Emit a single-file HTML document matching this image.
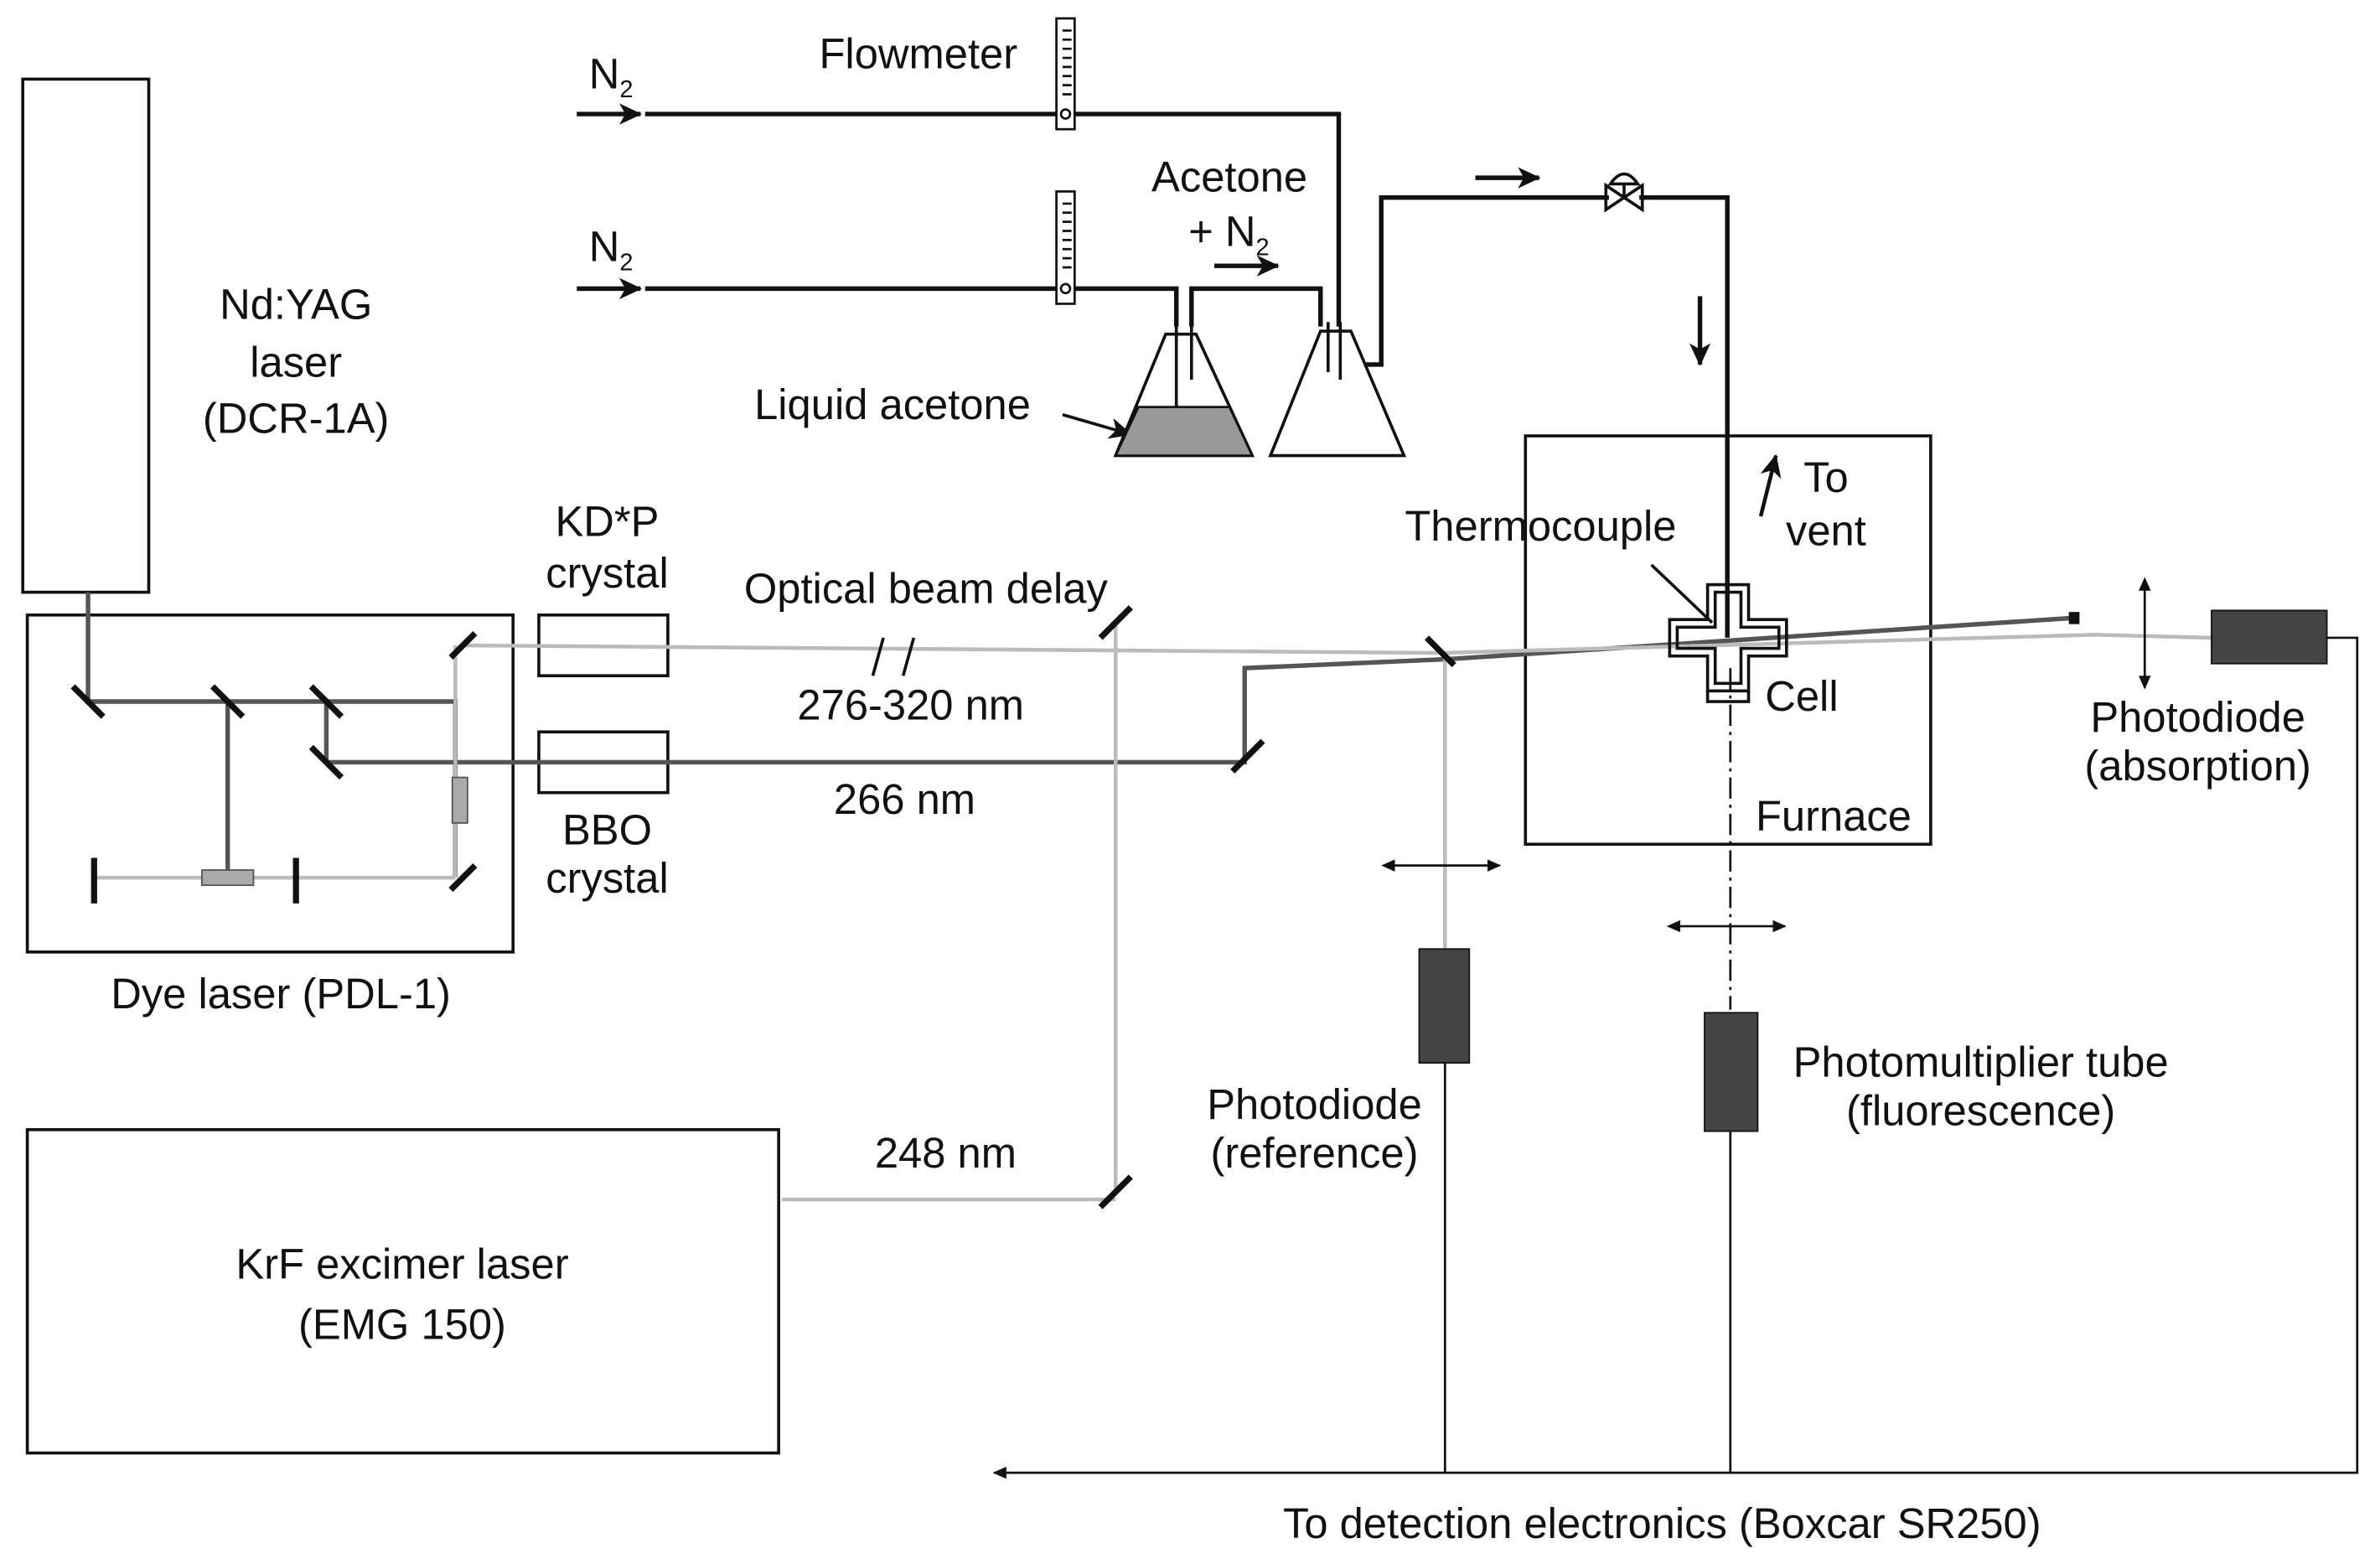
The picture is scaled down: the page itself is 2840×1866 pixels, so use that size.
<!DOCTYPE html>
<html><head><meta charset="utf-8"><style>
html,body{margin:0;padding:0;background:#fff;}
svg{display:block;}
text{font-family:"Liberation Sans",sans-serif;fill:#111;font-size:28px;font-weight:500;}
</style></head><body>
<svg width="2840" height="1866" viewBox="0 0 1568 1030" xmlns="http://www.w3.org/2000/svg">
<defs>
<marker id="ah" markerWidth="10" markerHeight="10" refX="8" refY="5" orient="auto" markerUnits="userSpaceOnUse"><path d="M0,1 L9,5 L0,9 Z" fill="#111"/></marker>
<marker id="ahs" markerWidth="10" markerHeight="10" refX="2" refY="5" orient="auto-start-reverse" markerUnits="userSpaceOnUse"><path d="M0,1 L9,5 L0,9 Z" fill="#111"/></marker>
<marker id="big" markerWidth="16" markerHeight="14" refX="14" refY="7" orient="auto" markerUnits="userSpaceOnUse"><path d="M0,0 L15,7 L0,14 L4,7 Z" fill="#111"/></marker>
</defs>
<g fill="none" stroke="#111" stroke-width="2">
<rect x="15" y="52" width="83" height="338"/>
<rect x="18" y="405" width="320" height="222"/>
<rect x="355" y="405" width="85" height="40"/>
<rect x="355" y="482" width="85" height="40"/>
<rect x="18" y="744" width="495" height="213"/>
<rect x="1005" y="287" width="267" height="269"/>
</g>
<g stroke="#555" stroke-width="3" fill="none">
<path d="M58 390 V462 H300 V578"/>
<path d="M150 462 V578"/>
<path d="M215 462 V502 H820 V440 L955 434 L1365 407"/>
</g>
<g stroke="#bbb" stroke-width="2.5" fill="none">
<path d="M62 578 H300"/>
<path d="M305 425 L950 430"/>
<path d="M950 430 L1380 418 L1457 420"/>
<path d="M952 432 V625"/>
<path d="M735 410 V785 M515 790 H735"/>
<path d="M300 425 V578"/>
</g>
<g stroke="#111" stroke-width="4">
<path d="M48 452 L68 472 M140 452 L160 472 M205 452 L225 472 M205 492 L225 512"/>
<path d="M297 433 L313 417 M297 586 L313 570 M725 420 L745 400 M725 795 L745 775 M812 508 L832 488 M940 420 L958 438"/>
<path d="M62 565 V595 M195 565 V595"/>
<path d="M575 445 L582 420 M595 445 L602 420" stroke-width="2"/>
</g>
<rect x="133" y="573" width="34" height="10" fill="#aaa" stroke="#555"/>
<rect x="298" y="512" width="10" height="30" fill="#aaa" stroke="#555"/>
<rect x="1363" y="403" width="7" height="8" fill="#111"/>
<rect x="935" y="625" width="33" height="75" fill="#444" stroke="#111"/>
<rect x="1123" y="667" width="35" height="78" fill="#444" stroke="#111"/>
<rect x="1457" y="402" width="76" height="35" fill="#444" stroke="#111"/>
<g stroke="#111" stroke-width="1.5" fill="none">
<path d="M952 700 V970 M1140 745 V970 M1533 420 H1553 V970 H655" marker-end="url(#ah)"/>
<path d="M1140 440 V665" stroke-dasharray="14 4 2 4"/>
<path d="M917 570 H988" marker-start="url(#ahs)" marker-end="url(#ah)"/>
<path d="M1105 610 H1176" marker-start="url(#ahs)" marker-end="url(#ah)"/>
<path d="M1413 387 V453" marker-start="url(#ahs)" marker-end="url(#ah)"/>
</g>
<g stroke="#111" stroke-width="2" fill="none">
<path d="M1125 385 H1152 V408 H1177 V432 H1152 V455 H1125 V432 H1100 V408 H1125 Z"/>
<path d="M1130 390 H1147 V413 H1172 V427 H1147 V450 H1130 V427 H1105 V413 H1130 Z"/>
<path d="M1125 455 V462 H1152 V455"/>
<path d="M1088 372 L1128 410"/>
<path d="M1160 340 L1170 300" marker-end="url(#big)" stroke-width="2.5"/>
</g>
<g stroke="#111" stroke-width="3" fill="none">
<path d="M425 75 H882 V215"/>
<path d="M425 190 H775 V215"/>
<path d="M785 215 V190 H870 V215"/>
<path d="M890 240 H910 V130 H1060 M1080 130 H1138 V420"/>
</g>
<g stroke="#111" stroke-width="3" fill="none">
<path d="M380 75 H422" marker-end="url(#big)"/>
<path d="M380 190 H422" marker-end="url(#big)"/>
<path d="M800 175 H842" marker-end="url(#big)"/>
<path d="M972 117 H1014" marker-end="url(#big)"/>
<path d="M1120 195 V240" marker-end="url(#big)"/>
<path d="M700 273 L745 286" marker-end="url(#big)" stroke-width="2"/>
</g>
<g stroke="#111" stroke-width="1.5" fill="#fff">
<rect x="696" y="12" width="12" height="73"/>
<rect x="696" y="126" width="12" height="74"/>
<path d="M700 20 H706 M700 26 H706 M700 32 H706 M700 38 H706 M700 44 H706 M700 50 H706 M700 56 H706 M700 62 H706 M700 134 H706 M700 140 H706 M700 146 H706 M700 152 H706 M700 158 H706 M700 164 H706 M700 170 H706 M700 176 H706" fill="none"/>
<circle cx="702" cy="75" r="3"/><circle cx="702" cy="190" r="3"/>
</g>
<path d="M1058 122 L1082 138 V122 L1058 138 Z M1070 130 V120" stroke="#111" fill="none" stroke-width="2"/>
<path d="M1061 121 Q1070 108 1079 121 Z" stroke="#111" fill="#fff" stroke-width="2"/>
<path d="M768 220 H788 L825 300 H735 Z" fill="#fff" stroke="#111" stroke-width="2"/>
<path d="M750 268 H810 L825 300 H735 Z" fill="#999" stroke="#111" stroke-width="1.5"/>
<path d="M870 218 H890 L925 300 H837 Z" fill="#fff" stroke="#111" stroke-width="2"/>
<path d="M775 212 V268 M785 212 V250 M875 212 V245 M883 212 V250" stroke="#111" stroke-width="2"/>
<text x="195" y="210" text-anchor="middle">Nd:YAG</text>
<text x="195" y="248" text-anchor="middle">laser</text>
<text x="195" y="285" text-anchor="middle">(DCR-1A)</text>
<text x="185" y="664" text-anchor="middle">Dye laser (PDL-1)</text>
<text x="400" y="353" text-anchor="middle">KD*P</text>
<text x="400" y="387" text-anchor="middle">crystal</text>
<text x="400" y="556" text-anchor="middle">BBO</text>
<text x="400" y="588" text-anchor="middle">crystal</text>
<text x="610" y="397" text-anchor="middle">Optical beam delay</text>
<text x="600" y="474" text-anchor="middle">276-320 nm</text>
<text x="596" y="536" text-anchor="middle">266 nm</text>
<text x="623" y="769" text-anchor="middle">248 nm</text>
<text x="265" y="842" text-anchor="middle">KrF excimer laser</text>
<text x="265" y="882" text-anchor="middle">(EMG 150)</text>
<text x="605" y="45" text-anchor="middle">Flowmeter</text>
<text x="388" y="58">N<tspan font-size="16" dy="6">2</tspan></text>
<text x="388" y="172">N<tspan font-size="16" dy="6">2</tspan></text>
<text x="810" y="126" text-anchor="middle">Acetone</text>
<text x="783" y="162">+ N<tspan font-size="16" dy="6">2</tspan></text>
<text x="588" y="276" text-anchor="middle">Liquid acetone</text>
<text x="1015" y="356" text-anchor="middle">Thermocouple</text>
<text x="1203" y="324" text-anchor="middle">To</text>
<text x="1203" y="359" text-anchor="middle">vent</text>
<text x="1187" y="468" text-anchor="middle">Cell</text>
<text x="1208" y="547" text-anchor="middle">Furnace</text>
<text x="1448" y="482" text-anchor="middle">Photodiode</text>
<text x="1448" y="514" text-anchor="middle">(absorption)</text>
<text x="866" y="737" text-anchor="middle">Photodiode</text>
<text x="866" y="769" text-anchor="middle">(reference)</text>
<text x="1305" y="709" text-anchor="middle">Photomultiplier tube</text>
<text x="1305" y="741" text-anchor="middle">(fluorescence)</text>
<text x="1095" y="1013" text-anchor="middle">To detection electronics (Boxcar SR250)</text>
</svg>
</body></html>
